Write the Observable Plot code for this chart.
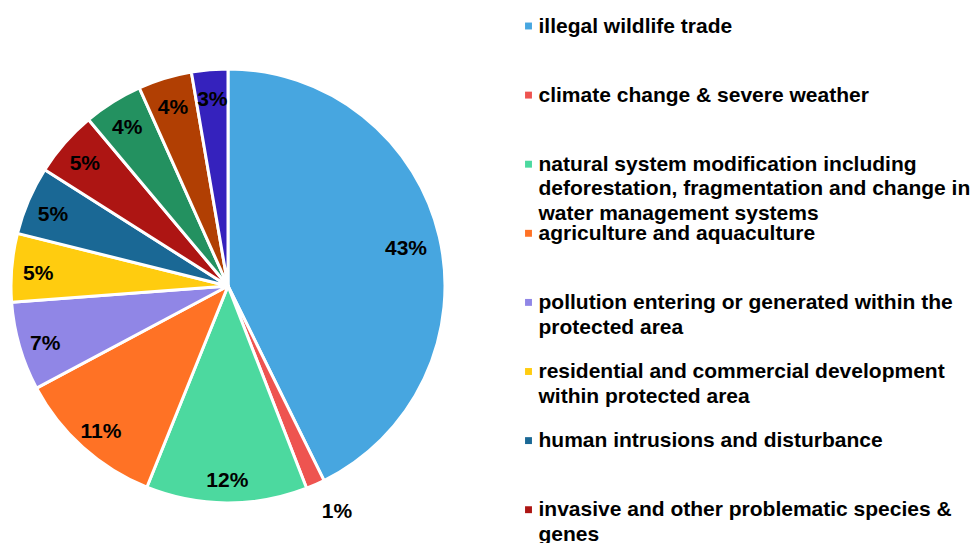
<!DOCTYPE html>
<html><head><meta charset="utf-8">
<script src="https://cdn.jsdelivr.net/npm/d3@7"></script>
<script src="https://cdn.jsdelivr.net/npm/@observablehq/plot@0.6"></script>
<style>html,body{margin:0;padding:0;background:#fff;overflow:hidden}</style>
</head><body><div id="chart"></div>
<script>
const categories = [
  "illegal wildlife trade",
  "climate change & severe weather",
  "natural system modification including\ndeforestation, fragmentation and change in\nwater management systems",
  "agriculture and aquaculture",
  "pollution entering or generated within the\nprotected area",
  "residential and commercial development\nwithin protected area",
  "human intrusions and disturbance",
  "invasive and other problematic species &\ngenes",
  "energy production and mining",
  "transportation and service corridors",
  "biological resource use"
];
const values = [42.7, 1.4, 12.0, 11.1, 6.6, 5.1, 5.1, 4.9, 4.4, 4.0, 2.7];
const colors = ["#47a6e0", "#ee5450", "#4cd99f", "#ff7225", "#9086e6", "#ffcc0f",
                "#1a6895", "#ad1513", "#239160", "#b13f03", "#3522bd"];

const W = 978, H = 543, cx = 228, cy = 286, R = 217;
const FONT = "'Liberation Sans', Arial, Helvetica, sans-serif";

const data = categories.map((c, i) => ({category: c, value: values[i], color: colors[i], i}));
const arcs = d3.pie().sort(null).value(d => d.value)(data);
const arcGen = d3.arc().innerRadius(0).outerRadius(R);

// label positions from arc geometry
const labelData = arcs.map(a => {
  const small = a.data.value < 2;
  const big = a.data.value > 30;
  const mid = (a.startAngle + a.endAngle) / 2 - (small ? 0.04 : 0);
  const r = small ? R + 30 : R * (big ? 0.84 : 0.88);
  return {
    x: cx + r * Math.sin(mid),
    y: cy - r * Math.cos(mid),
    text: Math.round(a.data.value) + "%"
  };
});

// legend rows (the legend runs past the bottom edge; only rows that start inside are drawn)
const legendMarks = data.map(d => ({x: 528, y: 25.5 + 69.1 * d.i, color: d.color}))
  .filter(d => d.y < H);
const legendLines = [];
data.forEach(d => d.category.split("\n").forEach((line, j) => {
  const y = 25.5 + 69.1 * d.i + 24.5 * j;
  if (y < H) legendLines.push({x: 538, y, text: line});
}));

const pieMark = () => {
  const g = d3.create("svg:g").attr("transform", `translate(${cx},${cy})`);
  g.selectAll("path").data(arcs).join("path")
    .attr("d", arcGen)
    .attr("fill", a => a.data.color)
    .attr("stroke", "#fff")
    .attr("stroke-width", 3)
    .attr("stroke-linejoin", "round");
  return g.node();
};

const chart = Plot.plot({
  width: W, height: H,
  margin: 0,
  x: {type: "identity", axis: null},
  y: {type: "identity", axis: null},
  style: {fontFamily: FONT, background: "#fff"},
  marks: [
    pieMark,
    Plot.text(labelData, {x: "x", y: "y", text: "text", dy: 3, fontSize: 21, fontWeight: "bold", fill: "#000"}),
    Plot.dot(legendMarks, {x: "x", y: "y", fill: "color", symbol: "square", r: 3.9, stroke: null}),
    Plot.text(legendLines, {x: "x", y: "y", text: "text", textAnchor: "start", fontSize: 21, fontWeight: "bold", fill: "#000"})
  ]
});
document.getElementById("chart").appendChild(chart);
</script>
</body></html>
